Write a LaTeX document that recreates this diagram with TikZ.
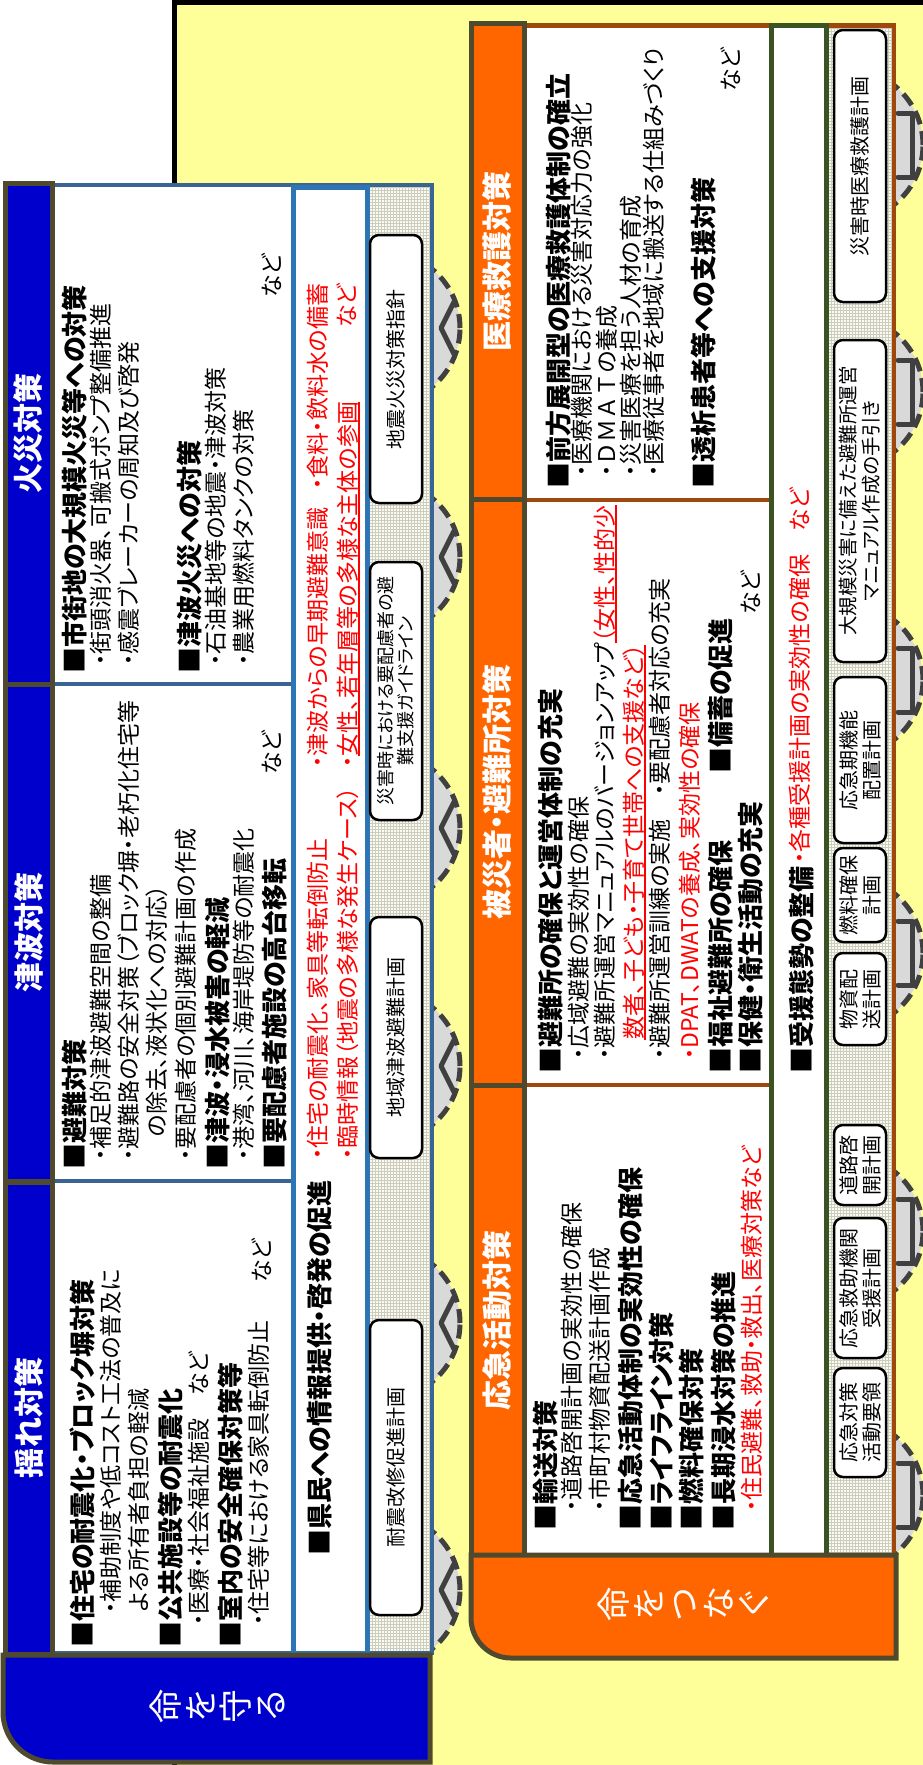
\documentclass[tikz,border=0pt]{standalone}
\usepackage{fontspec}
\setmainfont{Noto Sans CJK JP}[RawFeature=+palt]
\usetikzlibrary{patterns}
\definecolor{oliv}{RGB}{79,74,46}
\definecolor{hblue}{RGB}{0,0,204}
\definecolor{sblue}{RGB}{58,100,148}
\definecolor{lblue}{RGB}{46,117,182}
\definecolor{orng}{RGB}{255,102,0}
\definecolor{brwn}{RGB}{158,72,14}
\definecolor{grn}{RGB}{59,83,35}
\definecolor{ylw}{RGB}{255,255,153}
\definecolor{cgray}{RGB}{217,217,217}
\definecolor{dgray}{RGB}{64,64,64}
\definecolor{rd}{RGB}{255,0,0}
\definecolor{gzfill}{RGB}{250,250,242}
\definecolor{gzline}{RGB}{205,205,190}
\newcommand\myfs[1]{\fontsize{#1pt}{#1pt}\selectfont}
\newsavebox\ulbox
\newcommand\myul[1]{\sbox\ulbox{#1}\rlap{\rule[-3pt]{\wd\ulbox}{1.6pt}}\usebox\ulbox}
\begin{document}
\begin{tikzpicture}[x=1pt,y=-1pt,
  txt/.style={rotate=90,anchor=north west,inner sep=0pt,font=\myfs{23}},
  bt/.style={txt,font=\myfs{26}\bfseries},
  rt/.style={txt,text=rd},
  pbox/.style={rotate=90,draw=black,line width=2.5pt,fill=white,rounded corners=9pt,
    inner sep=0pt,align=center,minimum height=52pt,font=\fontsize{20pt}{23pt}\selectfont},
  cyc/.style={fill=cgray,draw=dgray,line width=5pt,dash pattern=on 14pt off 7pt},
  chev/.style={draw=dgray,line width=5pt,line cap=round,line join=round},
  hsb/.style={rotate=90,draw=oliv,line width=5pt,fill=hblue,text=white,
    font=\myfs{30}\bfseries,inner sep=0pt,minimum height=47pt},
  hso/.style={hsb,fill=orng,minimum height=53pt},
  bign/.style={text=white,align=center,inner sep=0pt,rotate=90,font=\fontsize{34pt}{35pt}\selectfont}
]
\useasboundingbox (0,0) rectangle (922,1765);
\fill[white] (0,0) rectangle (922,1765);
\draw[line width=5pt,fill=ylw] (174.5,2.5) rectangle (940,1785);
% cycle icons behind panels
\foreach \cy in {328,557,828,1066,1323,1590}{
  \draw[cyc] (384,\cy) circle[radius=76pt];
  \draw[chev] (454,\cy-26) -- (441,\cy) -- (454,\cy+26);}
\foreach \cy in {145,392,680,953,1231,1495}{
  \draw[cyc] (847,\cy) circle[radius=76pt];
  \draw[chev] (898,\cy-32) -- (912,\cy-32) -- (912,\cy+32) -- (898,\cy+32);}
% ---------------- blue panel ----------------
\fill[white] (5,185) rectangle (432,1653);
\fill[gzfill] (367,187) rectangle (431,1652);
\fill[pattern=grid,pattern color=gzline] (367,187) rectangle (431,1652);
\draw[sblue,line width=4pt] (52,185) rectangle (432,1653);
\draw[sblue,line width=4pt] (52,684) -- (292,684);
\draw[sblue,line width=4pt] (52,1181) -- (292,1181);
\draw[lblue,line width=5pt] (293,187) rectangle (367,1653);
\node[hsb,minimum width=501pt] (s1) at (28.5,433.5) {火災対策};
\node[hsb,minimum width=497pt] (s2) at (28.5,932.5) {津波対策};
\node[hsb,minimum width=472pt] (s3) at (28.5,1418) {揺れ対策};
\draw[oliv,line width=5pt,fill=hblue] (3,1655) -- (430,1655) -- (430,1762) -- (53,1762)
  .. controls (25.4,1762) and (3,1739.6) .. (3,1712) -- cycle;
\node[bign] (b1) at (217,1706) {命\\を\\守\\る};
% ---------------- orange panel ----------------
\fill[white] (471,25) rectangle (894,1555);
\fill[gzfill] (826,27) rectangle (893,1554);
\fill[pattern=grid,pattern color=gzline] (826,27) rectangle (893,1554);
\draw[brwn,line width=4.5pt] (524,25.5) rectangle (894,1555);
\draw[brwn,line width=4.5pt] (524,500) -- (771,500);
\draw[brwn,line width=4.5pt] (524,1085) -- (771,1085);
\draw[grn,line width=5pt] (771,25.5) rectangle (826,1555);
\node[hso,minimum width=476pt] (s4) at (497.5,261.5) {医療救護対策};
\node[hso,minimum width=586pt] (s5) at (497.5,792) {被災者・避難所対策};
\node[hso,minimum width=470pt] (s6) at (497.5,1320) {応急活動対策};
\draw[oliv,line width=5pt,fill=orng] (471,1555) -- (896,1555) -- (896,1658) -- (511,1658)
  .. controls (488.9,1658) and (471,1640.1) .. (471,1618) -- cycle;
\node[bign] (b2) at (683,1604) {命\\を\\つ\\な\\ぐ};
% ---------------- plan boxes ----------------
\node[pbox,minimum width=295pt] (p1) at (396,1467.5) {耐震改修促進計画};
\node[pbox,minimum width=241pt] (p2) at (396,1037.5) {地域津波避難計画};
\node[pbox,minimum width=258pt,font=\fontsize{18pt}{20pt}\selectfont] (p3) at (396,691) {災害時における要配慮者の避\\難支援ガイドライン};
\node[pbox,minimum width=268pt] (p4) at (396,369) {地震火災対策指針};
\node[pbox,minimum width=272pt] (q1) at (860,166) {災害時医療救護計画};
\node[pbox,minimum width=322pt,font=\fontsize{19.5pt}{23pt}\selectfont] (q2) at (860,501) {大規模災害に備えた避難所運営\\マニュアル作成の手引き};
\node[pbox,minimum width=166pt] (q3) at (860,760) {応急期機能\\配置計画};
\node[pbox,minimum width=94pt] (q4) at (860,895) {燃料確保\\計画};
\node[pbox,minimum width=92pt] (q5) at (860,999) {物資配\\送計画};
\node[pbox,minimum width=80pt] (q6) at (860,1165) {道路啓\\開計画};
\node[pbox,minimum width=140pt] (q7) at (860,1288) {応急救助機関\\受援計画};
\node[pbox,minimum width=109pt] (q8) at (860,1422.5) {応急対策\\活動要領};
% ---------------- blue panel texts ----------------
\node[bt] (k1) at (62,674) {■市街地の大規模火災等への対策};
\node[txt] (k2) at (90,666) {・街頭消火器、可搬式ポンプ整備推進};
\node[txt] (k3) at (118,666) {・感震ブレーカーの周知及び啓発};
\node[bt] (k4) at (177,674) {■津波火災への対策};
\node[txt] (k5) at (205,666) {・石油基地等の地震・津波対策};
\node[txt] (k6) at (233,666) {・農業用燃料タンクの対策};
\node[txt] (k7) at (262,298) {など};
\node[bt] (t1) at (62,1170) {■避難対策};
\node[txt] (t2) at (90,1161) {・補足的津波避難空間の整備};
\node[txt] (t3) at (118,1161) {・避難路の安全対策（ブロック塀・老朽化住宅等};
\node[txt] (t4) at (146,1137) {の除去、液状化への対応）};
\node[txt] (t5) at (175,1161) {・要配慮者の個別避難計画の作成};
\node[bt] (t6) at (205,1170) {■津波・浸水被害の軽減};
\node[txt] (t7) at (233,1161) {・港湾、河川、海岸堤防等の耐震化};
\node[bt] (t8) at (262,1170) {■要配慮者施設の高台移転};
\node[txt] (t9) at (262,775) {など};
\node[bt] (y1) at (70,1648) {■住宅の耐震化・ブロック塀対策};
\node[txt] (y2) at (100,1614) {・補助制度や低コスト工法の普及に};
\node[txt] (y3) at (128,1612) {よる所有者負担の軽減};
\node[bt] (y4) at (158,1648) {■公共施設等の耐震化};
\node[txt] (y5) at (188,1626) {・医療・社会福祉施設　など};
\node[bt] (y6) at (218,1648) {■室内の安全確保対策等};
\node[txt] (y7) at (248,1626) {・住宅等における家具転倒防止};
\node[txt] (y8) at (252,1283) {など};
\node[bt] (r1) at (307,1556) {■県民への情報提供・啓発の促進};
\node[rt] (r2) at (307,1160) {・住宅の耐震化、家具等転倒防止};
\node[rt] (r3) at (337,1160) {・臨時情報（地震の多様な発生ケース）};
\node[rt] (r4) at (307,768) {・津波からの早期避難意識};
\node[rt] (r5) at (337,768) {・\myul{女性、若年層等の多様な主体の参画}};
\node[rt] (r6) at (307,490) {・食料・飲料水の備蓄};
\node[rt] (r7) at (337,328) {など};
% ---------------- orange panel texts ----------------
\node[bt] (m1) at (546,489) {■前方展開型の医療救護体制の確立};
\node[txt] (m2) at (571,477) {・医療機関における災害対応力の強化};
\node[txt] (m3) at (596,477) {・{\addfontfeature{RawFeature=-palt}ＤＭＡＴ}の養成};
\node[txt] (m4) at (620,477) {・災害医療を担う人材の育成};
\node[txt] (m5) at (643,477) {・医療従事者を地域に搬送する仕組みづくり};
\node[bt] (m6) at (691,489) {■透析患者等への支援対策};
\node[txt] (m7) at (721,92) {など};
\node[bt] (h1) at (538,1074) {■避難所の確保と運営体制の充実};
\node[txt] (h2) at (568,1060) {・広域避難の実効性の確保};
\node[txt] (h3) at (594,1060) {・避難所運営マニュアルのバージョンアップ{\color{rd}\myul{（女性、性的少}}};
\node[rt] (h4) at (623,1040) {\myul{数者、子ども・子育て世帯への支援など）}};
\node[txt] (h5) at (649,1060) {・避難所運営訓練の実施　・要配慮者対応の充実};
\node[rt] (h6) at (679,1060) {・DPAT、DWATの養成、実効性の確保};
\node[bt] (h7) at (708,1074) {■福祉避難所の確保};
\node[bt] (h8) at (708,774) {■備蓄の促進};
\node[bt] (h9) at (738,1074) {■保健・衛生活動の充実};
\node[txt] (h10) at (741,615) {など};
\node[bt] (g1) at (533,1531) {■輸送対策};
\node[txt] (g2) at (561,1512) {・道路啓開計画の実効性の確保};
\node[txt] (g3) at (589,1512) {・市町村物資配送計画作成};
\node[bt] (g4) at (618,1531) {■応急活動体制の実効性の確保};
\node[bt] (g5) at (649,1531) {■ライフライン対策};
\node[bt] (g6) at (679,1531) {■燃料確保対策};
\node[bt] (g7) at (711,1531) {■長期浸水対策の推進};
\node[rt] (g8) at (741,1512) {・住民避難、救助・救出、医療対策など};
\node[bt] (j1) at (789,1074) {■受援態勢の整備};
\node[rt] (j2) at (789,864) {・各種受援計画の実効性の確保　など};
\end{tikzpicture}
\end{document}
